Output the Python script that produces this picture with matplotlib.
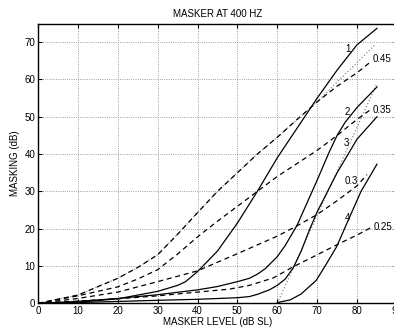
import matplotlib
matplotlib.use("Agg")
import matplotlib.pyplot as plt

plt.rcParams['font.family'] = ['Liberation Sans', 'DejaVu Sans']

# masking curves (solid)
x1 = [0, 10, 20, 30, 35, 37, 40, 45, 50, 55, 60, 65, 70, 75, 80, 85]
y1 = [0, 0.3, 1.2, 3.2, 4.8, 5.8, 8.5, 14, 21.5, 30, 39, 47, 55, 62.5, 69.3, 73.7]
x2 = [0, 10, 20, 30, 40, 45, 50, 53, 55, 57, 60, 62, 65, 70, 73, 75, 77, 80, 85]
y2 = [0, 0.5, 1.3, 2.3, 3.6, 4.5, 5.8, 6.7, 7.8, 9.3, 12.5, 15.5, 21, 33, 40.5, 45, 48.5, 52.5, 58]
x3 = [0, 10, 20, 30, 40, 50, 53, 55, 58, 60, 62, 64, 66, 68, 70, 75, 80, 85]
y3 = [0, 0.2, 0.5, 0.8, 1.07, 1.5, 1.8, 2.4, 3.6, 4.8, 6.5, 9.5, 14, 19.5, 24.5, 35, 44, 50]
x4 = [60, 63.2, 66, 69.8, 72, 74.9, 77.8, 81, 85]
y4 = [0.2, 0.9, 2.5, 6.2, 10, 15.2, 22.3, 30, 37.3]

# dashed curves
xa = [0, 10, 20, 25, 30, 35, 40, 45, 50, 55, 60, 65, 70, 75, 80, 83.5]
ya = [0, 2.2, 6.7, 9.6, 13, 18.5, 24.3, 30, 35, 40, 44.5, 49.3, 54, 58.2, 61.8, 64.8]
xb = [0, 10, 20, 25, 30, 35, 40, 45, 50, 55, 60, 65, 70, 75, 80, 83.5]
yb = [0, 2, 4.4, 6.5, 9, 13.2, 17.8, 22, 26, 30, 34, 37.5, 41, 45, 49.3, 52]
xc = [0, 10, 20, 30, 40, 50, 60, 65, 70, 75, 80, 82.5]
yc = [0, 1.3, 3, 5.8, 8.7, 13.3, 18, 20.8, 23.8, 27.5, 31.5, 34.5]
xd = [0, 10, 20, 30, 40, 48, 53, 59, 64, 70, 75.7, 80, 83.5]
yd = [0, 0.6, 1.2, 2, 3, 3.8, 4.8, 6.8, 9.8, 13, 16.1, 18.3, 20.3]

# dotted curves
xe = [0, 10, 20, 25, 30, 35, 40, 45, 50, 55, 60, 65, 70, 75, 80, 84.5]
ye = [0, 2.2, 6.7, 9.6, 13, 18.5, 24.3, 30, 35, 40, 44.5, 49.3, 54, 59.3, 64.5, 69.3]
xf = [60, 85]
yf = [0, 59]

fig = plt.figure(figsize=(3.94, 3.28), dpi=100)
ax = fig.add_axes([0.0964, 0.0753, 0.911, 0.853])

ax.plot(xe, ye, ':', color='0.55', lw=0.9)
ax.plot(xf, yf, ':', color='0.55', lw=0.9)
for x, y in [(x1, y1), (x2, y2), (x3, y3), (x4, y4)]:
    ax.plot(x, y, '-', color='k', lw=0.9)
for x, y in [(xa, ya), (xb, yb), (xc, yc), (xd, yd)]:
    ax.plot(x, y, '--', color='k', lw=0.9, dashes=(4, 3))

fs = 7
ax.text(77.7, 68.1, '1', fontsize=fs, ha='center', va='center')
ax.text(77.6, 51.3, '2', fontsize=fs, ha='center', va='center')
ax.text(77.4, 43.0, '3', fontsize=fs, ha='center', va='center')
ax.text(77.5, 22.8, '4', fontsize=fs, ha='center', va='center')
ax.text(84.0, 65.5, '0.45', fontsize=fs, ha='left', va='center')
ax.text(84.0, 51.8, '0.35', fontsize=fs, ha='left', va='center')
ax.text(77.0, 32.8, '0.3', fontsize=fs, ha='left', va='center')
ax.text(84.2, 20.5, '0.25', fontsize=fs, ha='left', va='center')

ax.set_xlim(0, 90)
ax.set_ylim(0, 75)
ax.set_xticks(range(0, 91, 10))
ax.set_yticks(range(0, 71, 10))
ax.tick_params(direction='in', labelsize=fs, top=True, right=True, length=3, pad=2)
ax.grid(True, linestyle=':', color='0.5', lw=0.6)
for s in ax.spines.values():
    s.set_linewidth(1.0)

ax.set_title('MASKER AT 400 HZ', fontsize=fs, pad=5)
ax.set_xlabel('MASKER LEVEL (dB SL)', fontsize=fs, labelpad=1)
ax.set_ylabel('MASKING (dB)', fontsize=fs, labelpad=3)

fig.savefig('out.png', dpi=100)
